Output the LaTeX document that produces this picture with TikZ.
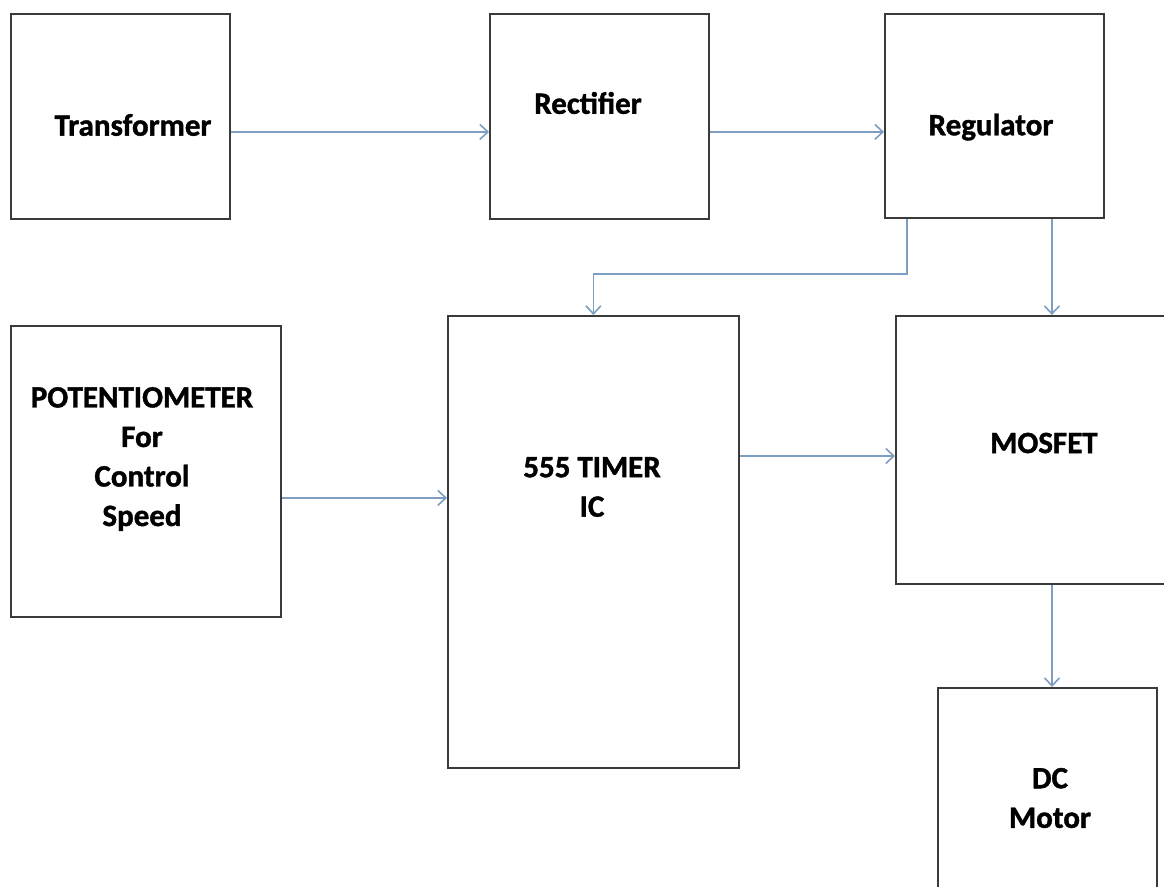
\documentclass[tikz,border=0pt]{standalone}
\usepackage{fontspec}
\setmainfont{Carlito}[BoldFeatures={FakeBold=1.3}]
\usetikzlibrary{arrows.meta}
\definecolor{boxline}{HTML}{3A3A3A}
\definecolor{arrowc}{HTML}{7D9DC3}
\begin{document}
\begin{tikzpicture}[x=1pt,y=-1pt,
  blk/.style={draw=boxline,line width=1.8pt,rectangle,inner sep=0pt,anchor=north west},
  lbl/.style={font=\fontsize{31}{39.5}\selectfont\bfseries,align=center,inner sep=0pt},
  arr/.style={draw=arrowc,line width=1.6pt,-{Straight Barb[length=8pt,width=15pt,line width=1.6pt]}}]
\useasboundingbox (0,0) rectangle (1164,886);
\clip (0,0) rectangle (1164,886);
% boxes
\node[blk,minimum width=219pt,minimum height=205pt] (tr) at (10,13) {};
\node[blk,minimum width=219pt,minimum height=205pt] (rect) at (489,13) {};
\node[blk,minimum width=219pt,minimum height=204pt] (reg) at (884,13) {};
\node[blk,minimum width=270pt,minimum height=291pt] (pot) at (10,325) {};
\node[blk,minimum width=291pt,minimum height=452pt] (timer) at (447,315) {};
\node[blk,minimum width=290pt,minimum height=268pt] (mos) at (895,315) {};
\node[blk,minimum width=219pt,minimum height=230pt] (dc) at (937,687) {};
% labels
\node[lbl] (trl) at (133,125) {Transformer};
\node[lbl] (rectl) at (588,103) {Rectifier};
\node[lbl] (regl) at (991,127) {Regulator};
\node[lbl] (potl) at (142,459) {POTENTIOMETER\\For\\Control\\Speed};
\node[lbl] (timerl) at (592,487) {555 TIMER\\IC};
\node[lbl] (mosl) at (1044,443) {MOSFET};
\node[lbl] (dcl) at (1050,798) {DC\\Motor};
% connectors
\draw[arr] ([yshift=-15.5pt]tr.east) -- ([yshift=-15.5pt]rect.west);
\draw[arr] ([yshift=-15.5pt]rect.east) -- ([yshift=-15.5pt]rect.east -| reg.west);
\draw[arr] ([xshift=-87.5pt]reg.south) -- ++(0,55) -| (timer.north);
\draw[arr] ([xshift=57.5pt]reg.south) -- ([xshift=57.5pt]reg.south |- mos.north);
\draw[arr] ([yshift=-26.5pt]pot.east) -- ([yshift=-26.5pt]pot.east -| timer.west);
\draw[arr] (timer.east |- 0,456) -- (mos.west |- 0,456);
\draw[arr] (mos.south -| 1052,0) -- (dc.north -| 1052,0);
\end{tikzpicture}
\end{document}
